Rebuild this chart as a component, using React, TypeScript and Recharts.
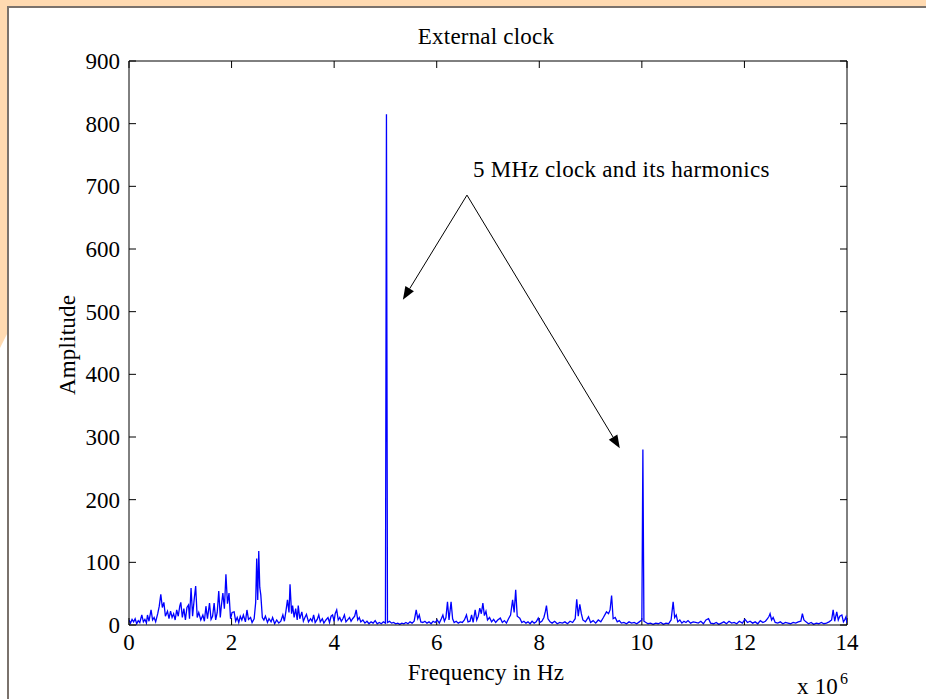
import React from 'react';
import { LineChart, Line, XAxis, YAxis, ReferenceLine, ReferenceDot } from 'recharts';

// spectrum, [frequency (x 10^6 Hz), amplitude]
const band0to5: [number, number][] = [
  [0.0, 8], [0.03, 3], [0.06, 9], [0.09, 5], [0.12, 10], [0.15, 2], [0.18, 7], [0.21, 4], [0.25, 16], [0.28, 5],
  [0.31, 9], [0.34, 3], [0.36, 16], [0.39, 6], [0.43, 24], [0.46, 8], [0.49, 12], [0.52, 5], [0.56, 18], [0.59, 30],
  [0.62, 49], [0.65, 28], [0.68, 36], [0.71, 14], [0.75, 22], [0.78, 10], [0.81, 22], [0.84, 12], [0.87, 18], [0.9, 8],
  [0.93, 24], [0.96, 14], [0.99, 30], [1.01, 36], [1.04, 12], [1.07, 26], [1.1, 8], [1.13, 28], [1.16, 32], [1.18, 10],
  [1.21, 59], [1.24, 14], [1.27, 40], [1.3, 62], [1.33, 12], [1.36, 20], [1.4, 8], [1.44, 16], [1.47, 6], [1.5, 30],
  [1.53, 10], [1.57, 35], [1.6, 9], [1.63, 14], [1.66, 35], [1.69, 8], [1.72, 20], [1.75, 54], [1.78, 12], [1.8, 30],
  [1.83, 51], [1.86, 26], [1.89, 81], [1.92, 34], [1.95, 51], [1.98, 10], [2.01, 20], [2.05, 21], [2.08, 6], [2.11, 12],
  [2.14, 4], [2.17, 14], [2.2, 8], [2.23, 16], [2.27, 5], [2.3, 24], [2.33, 9], [2.37, 12], [2.4, 4], [2.44, 10],
  [2.47, 36], [2.49, 106], [2.51, 40], [2.53, 118], [2.55, 60], [2.57, 48], [2.6, 12], [2.63, 8], [2.66, 14], [2.7, 4],
  [2.73, 10], [2.77, 5], [2.8, 12], [2.84, 2], [2.88, 8], [2.92, 3], [2.96, 6], [3.0, 16], [3.03, 6], [3.06, 22],
  [3.09, 40], [3.12, 20], [3.14, 65], [3.17, 18], [3.19, 31], [3.22, 12], [3.25, 26], [3.28, 8], [3.3, 31], [3.33, 10],
  [3.37, 21], [3.4, 6], [3.43, 12], [3.46, 17], [3.5, 5], [3.54, 10], [3.57, 6], [3.6, 16], [3.63, 4], [3.67, 9],
  [3.7, 16], [3.73, 5], [3.77, 10], [3.8, 3], [3.84, 8], [3.88, 12], [3.91, 4], [3.94, 14], [3.97, 16], [4.0, 6],
  [4.02, 18], [4.05, 24], [4.08, 8], [4.11, 12], [4.14, 6], [4.17, 10], [4.2, 16], [4.23, 5], [4.27, 9], [4.3, 12],
  [4.33, 6], [4.36, 10], [4.4, 14], [4.43, 24], [4.46, 8], [4.49, 12], [4.52, 5], [4.56, 8], [4.6, 3], [4.64, 6],
  [4.68, 2], [4.72, 5], [4.76, 3], [4.8, 7], [4.84, 2], [4.88, 4], [4.92, 2], [4.96, 5], [5.0, 3],
];

const band5to10: [number, number][] = [
  [5.02, 815], [5.04, 4], [5.08, 6], [5.12, 3], [5.16, 4], [5.2, 2], [5.24, 3], [5.28, 1], [5.32, 3], [5.36, 2],
  [5.4, 4], [5.44, 2], [5.48, 5], [5.52, 3], [5.56, 6], [5.6, 24], [5.63, 10], [5.66, 16], [5.69, 5], [5.73, 4],
  [5.77, 6], [5.81, 3], [5.85, 5], [5.89, 2], [5.93, 6], [5.97, 4], [6.01, 8], [6.05, 3], [6.09, 10], [6.12, 16],
  [6.15, 6], [6.18, 12], [6.21, 37], [6.24, 8], [6.28, 37], [6.31, 10], [6.34, 4], [6.38, 6], [6.42, 3], [6.46, 5],
  [6.5, 4], [6.54, 8], [6.58, 16], [6.61, 5], [6.65, 6], [6.68, 16], [6.71, 4], [6.75, 24], [6.78, 8], [6.81, 14],
  [6.84, 27], [6.87, 18], [6.9, 35], [6.93, 15], [6.96, 22], [6.99, 8], [7.03, 12], [7.07, 5], [7.11, 9], [7.15, 4],
  [7.19, 8], [7.24, 11], [7.28, 4], [7.32, 7], [7.36, 3], [7.4, 10], [7.44, 16], [7.48, 40], [7.51, 20], [7.54, 56],
  [7.57, 14], [7.62, 11], [7.66, 4], [7.7, 6], [7.74, 3], [7.78, 5], [7.82, 2], [7.86, 6], [7.9, 3], [7.94, 5],
  [7.98, 11], [8.01, 4], [8.05, 6], [8.09, 12], [8.12, 22], [8.14, 31], [8.17, 10], [8.21, 5], [8.25, 3], [8.3, 6],
  [8.35, 2], [8.4, 4], [8.45, 3], [8.5, 5], [8.55, 2], [8.6, 6], [8.65, 4], [8.7, 10], [8.73, 41], [8.76, 14],
  [8.79, 33], [8.82, 18], [8.85, 8], [8.9, 5], [8.96, 13], [9.0, 4], [9.05, 7], [9.1, 3], [9.15, 8], [9.2, 5],
  [9.25, 12], [9.31, 21], [9.35, 18], [9.38, 24], [9.41, 47], [9.44, 10], [9.48, 12], [9.52, 5], [9.56, 7], [9.6, 3],
  [9.65, 4], [9.7, 2], [9.75, 5], [9.8, 3], [9.85, 4], [9.9, 2], [9.95, 5], [10.0, 8],
];

const band10to14: [number, number][] = [
  [10.02, 280], [10.04, 6], [10.08, 4], [10.12, 2], [10.17, 3], [10.22, 1], [10.27, 3], [10.32, 2], [10.37, 4], [10.42, 1],
  [10.47, 3], [10.52, 2], [10.57, 8], [10.61, 37], [10.64, 12], [10.67, 16], [10.7, 5], [10.74, 8], [10.78, 3], [10.82, 6],
  [10.86, 4], [10.9, 7], [10.95, 3], [11.0, 5], [11.05, 4], [11.1, 3], [11.15, 6], [11.2, 2], [11.25, 8], [11.3, 10],
  [11.34, 3], [11.4, 2], [11.45, 4], [11.5, 1], [11.55, 3], [11.6, 5], [11.65, 2], [11.7, 6], [11.75, 3], [11.8, 4],
  [11.85, 2], [11.9, 6], [11.96, 3], [12.01, 9], [12.06, 4], [12.11, 6], [12.16, 3], [12.21, 5], [12.26, 2], [12.31, 7],
  [12.36, 4], [12.41, 6], [12.45, 10], [12.48, 14], [12.5, 18], [12.53, 8], [12.56, 12], [12.6, 4], [12.65, 3], [12.7, 5],
  [12.75, 2], [12.8, 4], [12.85, 3], [12.9, 2], [12.95, 4], [13.0, 3], [13.05, 5], [13.1, 6], [13.13, 18], [13.16, 8],
  [13.2, 5], [13.25, 2], [13.3, 4], [13.35, 1], [13.4, 3], [13.45, 2], [13.5, 4], [13.55, 2], [13.6, 3], [13.65, 5],
  [13.7, 8], [13.73, 24], [13.76, 6], [13.8, 21], [13.83, 8], [13.86, 14], [13.9, 16], [13.93, 5], [13.96, 9], [13.98, 13],
  [14.0, 3],
];

const xTicks = [0, 2, 4, 6, 8, 10, 12, 14];
const yTicks = [0, 100, 200, 300, 400, 500, 600, 700, 800, 900];

// annotation arrows in data units: [fromX, fromY, toX, toY]
const arrows: [number, number, number, number][] = [
  [6.59, 686, 5.34, 519],
  [6.59, 686, 9.57, 282],
];
const noteText = '5 MHz clock and its harmonics';

const data = [...band0to5, ...band5to10, ...band10to14].map(([f, a]) => ({ f, a }));

const serif = '"Liberation Serif", "Times New Roman", serif';
const FS = 23;
const TICK = 7;

const Arrow = (p: any) => {
  const { x1, y1, x2, y2 } = p;
  const dx = x2 - x1, dy = y2 - y1;
  const len = Math.sqrt(dx * dx + dy * dy);
  const ux = dx / len, uy = dy / len;
  const hl = 13, hw = 5;
  const bx = x2 - ux * hl, by = y2 - uy * hl;
  const pts = `${x2},${y2} ${bx - uy * hw},${by + ux * hw} ${bx + uy * hw},${by - ux * hw}`;
  return (
    <g>
      <line x1={x1} y1={y1} x2={bx} y2={by} stroke="#000" strokeWidth={1} />
      <polygon points={pts} fill="#000" />
    </g>
  );
};

// inward tick marks at both ends of a full-height / full-width reference line
const VTicks = (p: any) => {
  const { x1, y1, x2, y2 } = p;
  const top = Math.min(y1, y2), bot = Math.max(y1, y2);
  return (
    <g stroke="#000" strokeWidth={1}>
      <line x1={x1} y1={bot} x2={x1} y2={bot - TICK} />
      <line x1={x2} y1={top} x2={x2} y2={top + TICK} />
    </g>
  );
};
const HTicks = (p: any) => {
  const { x1, y1, x2, y2 } = p;
  const l = Math.min(x1, x2), r = Math.max(x1, x2);
  return (
    <g stroke="#000" strokeWidth={1}>
      <line x1={l} y1={y1} x2={l + TICK} y2={y1} />
      <line x1={r} y1={y2} x2={r - TICK} y2={y2} />
    </g>
  );
};

const XTick = (p: any) => (
  <text x={p.x} y={p.y + 17} textAnchor="middle" fontSize={FS} fontFamily={serif} fill="#000">{p.payload.value}</text>
);
const YTick = (p: any) => (
  <text x={p.x} y={p.y + 8} textAnchor="end" fontSize={FS} fontFamily={serif} fill="#000">{p.payload.value}</text>
);

const textBase: React.CSSProperties = { position: 'absolute', fontSize: FS, lineHeight: '26px', color: '#000', whiteSpace: 'nowrap', letterSpacing: 0.2 };

export default function App() {
  return (
    <div style={{ position: 'absolute', left: 0, top: 0, width: 926, height: 699, background: '#fff', overflow: 'hidden', fontFamily: serif }}>
      {/* slide frame */}
      <div style={{ position: 'absolute', left: 0, top: 0, width: 926, height: 6, background: '#FFDAB1' }} />
      <div style={{ position: 'absolute', left: 0, top: 0, width: 7, height: 348, background: '#FFDAB1', clipPath: 'polygon(0 0, 100% 0, 100% 96%, 0 100%)' }} />
      <div style={{ position: 'absolute', left: 7, top: 6, width: 919, height: 2, background: '#7a726c' }} />
      <div style={{ position: 'absolute', left: 7, top: 6, width: 2, height: 693, background: '#7a726c' }} />

      <div style={{ ...textBase, left: 0, top: 24, width: 972, textAlign: 'center' }}>External clock</div>
      <div style={{ ...textBase, left: 0, top: 660, width: 972, textAlign: 'center' }}>Frequency in Hz</div>
      <div style={{ ...textBase, left: 68, top: 345, transform: 'translate(-50%, -50%) rotate(-90deg)' }}>Amplitude</div>
      <div style={{ ...textBase, left: 797, top: 674 }}>
        x 10<span style={{ position: 'relative', top: -10, fontSize: 16, marginLeft: 2 }}>6</span>
      </div>

      <div style={{ position: 'absolute', left: 0, top: 0 }}>
        <LineChart width={926} height={699} data={data} margin={{ top: 61, right: 79, bottom: 44, left: 79 }}>
          <XAxis dataKey="f" type="number" domain={[0, 14]} ticks={xTicks} interval={0} allowDataOverflow
            stroke="#000" tickLine={false} tickSize={0} tickMargin={8} height={30} tick={XTick} />
          <YAxis type="number" domain={[0, 900]} ticks={yTicks} interval={0} allowDataOverflow
            stroke="#000" tickLine={false} tickSize={0} tickMargin={9} width={50} tick={YTick} />
          <ReferenceLine y={900} stroke="#000" strokeWidth={1} />
          <ReferenceLine x={14} stroke="#000" strokeWidth={1} />
          {xTicks.map((t) => (
            <ReferenceLine key={'xt' + t} x={t} shape={VTicks} />
          ))}
          {yTicks.map((t) => (
            <ReferenceLine key={'yt' + t} y={t} shape={HTicks} />
          ))}
          <Line dataKey="a" type="linear" stroke="#0000FF" strokeWidth={1.3} dot={false} activeDot={false} isAnimationActive={false} />
          {arrows.map(([fx, fy, tx, ty], i) => (
            <ReferenceLine key={i} segment={[{ x: fx, y: fy }, { x: tx, y: ty }]} shape={Arrow} ifOverflow="visible" />
          ))}
          <ReferenceDot x={9.6} y={724} ifOverflow="visible" shape={(p: any) => (
            <text x={p.cx} y={p.cy} textAnchor="middle" dominantBaseline="middle" fontSize={FS} fontFamily={serif} letterSpacing={0.3} fill="#000">
              {noteText}
            </text>
          )} />
        </LineChart>
      </div>
    </div>
  );
}
